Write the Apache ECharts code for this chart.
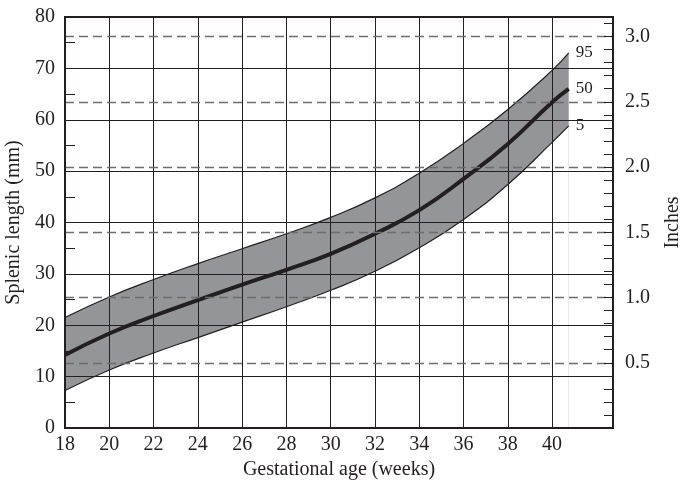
<!DOCTYPE html>
<html>
<head>
<meta charset="utf-8">
<script src="https://cdn.jsdelivr.net/npm/echarts@6/dist/echarts.min.js"></script>
<style>
html,body{margin:0;padding:0;background:#fff;}
#chart{width:681px;height:482px;}
</style>
</head>
<body>
<div id="chart"></div>
<script>
// Gestational age (weeks)
const weeks = [18, 20, 22, 24, 26, 28, 30, 32, 34, 36, 38, 40, 40.75];
// Splenic length (mm) percentiles
const p95 = [21.5, 25.5, 28.9, 32.0, 34.9, 37.8, 41.0, 44.8, 49.6, 55.4, 62.0, 69.6, 73.0];
const p50 = [14.2, 18.4, 21.8, 24.9, 27.9, 30.8, 33.9, 37.8, 42.4, 48.5, 55.3, 63.4, 66.0];
const p5  = [7.3, 11.3, 14.6, 17.6, 20.6, 23.6, 26.8, 30.5, 35.1, 40.6, 47.4, 55.6, 58.8];
// grid lines
const weekGrid = [20, 22, 24, 26, 28, 30, 32, 34, 36, 38, 40];
const mmGrid = [10, 20, 30, 40, 50, 60, 70];
const inchGrid = [0.5, 1.0, 1.5, 2.0, 2.5, 3.0];
const MM_PER_INCH = 25.4;

const ink = '#231f20';
const font = '"Liberation Serif", "Times New Roman", serif';

const chart = echarts.init(document.getElementById('chart'));

const upperData = weeks.map((w, i) => [w, p95[i]]);
const lowerData = weeks.map((w, i) => [w, p5[i]]);
const medianData = weeks.map((w, i) => [w, p50[i]]);

const gridMarks = [];
weekGrid.forEach(w => gridMarks.push({xAxis: w, lineStyle: {color: ink, width: 1, type: 'solid'}}));
mmGrid.forEach(v => gridMarks.push({yAxis: v, lineStyle: {color: ink, width: 1, type: 'solid'}}));
inchGrid.forEach(v => gridMarks.push({yAxis: v * MM_PER_INCH, lineStyle: {color: '#6d6d6d', width: 1.3, type: [9, 5]}}));

const smoothVal = 0.5;
const endLabelBase = {show: true, fontFamily: font, fontSize: 17, color: ink, distance: 7};

chart.setOption({
  animation: false,
  grid: {left: 65, right: 68, top: 17, bottom: 54, outerBoundsMode: 'none', containLabel: false,
    show: true, borderColor: ink, borderWidth: 2, z: 10, backgroundColor: 'transparent'},
  textStyle: {fontFamily: font, color: ink},
  xAxis: {
    type: 'value', min: 18, max: 42.75, interval: 2, z: 10,
    name: 'Gestational age (weeks)', nameLocation: 'middle', nameGap: 29,
    nameTextStyle: {fontFamily: font, fontSize: 20, color: ink},
    axisLine: {show: true, lineStyle: {color: ink, width: 2}},
    axisTick: {show: false},
    splitLine: {show: false},
    axisLabel: {fontFamily: font, fontSize: 20, color: ink, margin: 7, showMaxLabel: false,
      formatter: v => (v <= 40 ? String(v) : '')}
  },
  yAxis: [{
    type: 'value', min: 0, max: 80, interval: 10, position: 'left', z: 10,
    name: 'Splenic length (mm)', nameLocation: 'middle', nameGap: 38, nameRotate: 90,
    nameTextStyle: {fontFamily: font, fontSize: 20, color: ink},
    axisLine: {show: true, lineStyle: {color: ink, width: 2}},
    axisTick: {show: true, inside: true, length: 10, lineStyle: {color: ink}},
    minorTick: {show: true, splitNumber: 2, length: 10, lineStyle: {color: ink, width: 1}},
    splitLine: {show: false},
    axisLabel: {fontFamily: font, fontSize: 20, color: ink, margin: 10}
  }, {
    type: 'value', min: 0, max: 80 / MM_PER_INCH, interval: 0.1, position: 'right', z: 10,
    name: 'Inches', nameLocation: 'middle', nameGap: 50, nameRotate: 90,
    nameTextStyle: {fontFamily: font, fontSize: 20, color: ink},
    axisLine: {show: true, lineStyle: {color: ink, width: 2}},
    axisTick: {show: true, inside: true, length: 9, lineStyle: {color: ink, width: 1}},
    splitLine: {show: false},
    axisLabel: {fontFamily: font, fontSize: 20, color: ink, margin: 12, showMaxLabel: false,
      formatter: v => {
        const r = Math.round(v * 10) / 10;
        if (r > 0 && Math.abs(r * 2 - Math.round(r * 2)) < 1e-6 && Math.abs(v - r) < 1e-6) return r.toFixed(1);
        return '';
      }}
  }],
  series: [{
    name: '95', type: 'line', data: upperData, smooth: smoothVal,
    symbol: 'none', z: 1, silent: true,
    lineStyle: {color: ink, width: 1.2},
    areaStyle: {color: '#949599', opacity: 1, origin: 'start'},
    endLabel: Object.assign({}, endLabelBase, {formatter: '95'})
  }, {
    name: '5', type: 'line', data: lowerData, smooth: smoothVal,
    symbol: 'none', z: 1, silent: true,
    lineStyle: {color: ink, width: 1.2},
    areaStyle: {color: '#ffffff', opacity: 1, origin: 'start'},
    endLabel: Object.assign({}, endLabelBase, {formatter: '5'})
  }, {
    name: 'grid', type: 'line', data: [], z: 2, silent: true,
    markLine: {silent: true, symbol: ['none', 'none'], label: {show: false}, animation: false, data: gridMarks}
  }, {
    name: '50', type: 'line', data: medianData, smooth: smoothVal,
    symbol: 'none', z: 3, silent: true,
    lineStyle: {color: ink, width: 4},
    endLabel: Object.assign({}, endLabelBase, {formatter: '50'})
  }]
});
</script>
</body>
</html>
